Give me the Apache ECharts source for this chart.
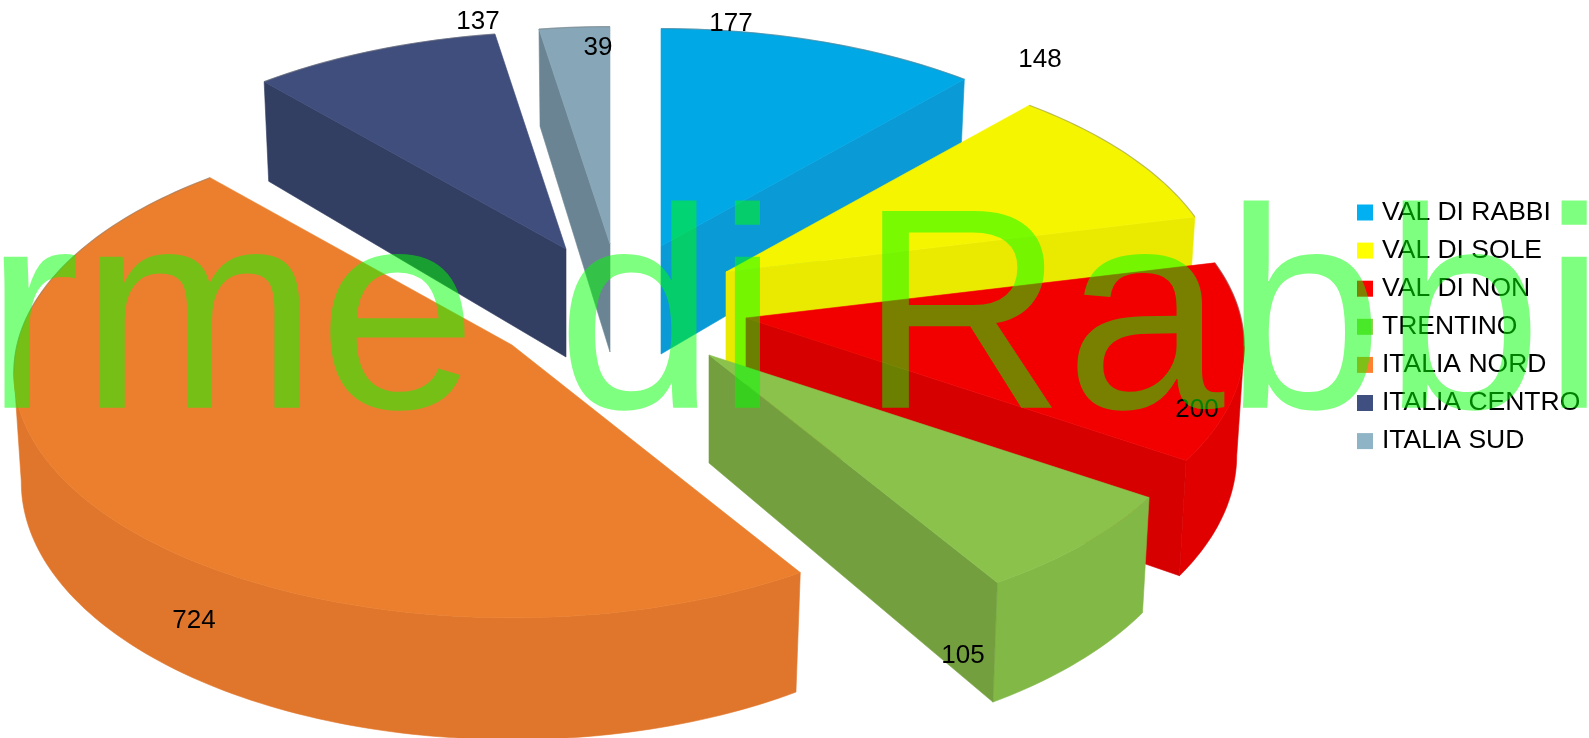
<!DOCTYPE html>
<html><head><meta charset="utf-8">
<style>html,body{margin:0;padding:0;background:#fff}#c{width:1589px;height:738px}</style>
<script src="https://cdn.jsdelivr.net/npm/echarts@6/dist/echarts.min.js"></script>
</head><body><div id="c"></div>
<script>
// Data
const categories = ['VAL DI RABBI','VAL DI SOLE','VAL DI NON','TRENTINO','ITALIA NORD','ITALIA CENTRO','ITALIA SUD'];
const values = [177,148,200,105,724,137,39];
// Styles
const legendColors = ['#00B0F0','#FFFF00','#FF0000','#92D050','#FF8030','#3F5080','#8FB4C6'];
const topColors    = ['#00A8E6','#F5F500','#F20000','#8AC24C','#EB7F2D','#3F4E7C','#87A6B7'];
const wallColors   = ['#0A9AD6','#EAEA00','#D60000','#739F3E','#E0762B','#323E62','#6B8493'];
const rimColors    = ['#0A9AD6','#EAEA00','#E00000','#82B845','#E0762B','#323E62','#6B8493'];
const stacking     = [3,4,6,7,5,2,1];
// Layout: pie centre, explosion of each slice, label shift relative to the slice tip
const pie = {cx:630, cy:290, rx:495, ry:242, k:0.113, depth:108, taper:0.985};
const explodeX = [31,96,116,79,-118,-64,-20];
const explodeY = [-44,-18,28,65,55,-41,-46];
const labelDX = [70,314,451,254,-318,-88,-12];
const labelDY = [-222,-212,92,301,276,-227,-196];

const total = values.reduce((a,b)=>a+b,0);
const starts = []; values.reduce((a,v,i)=>(starts[i]=a,a+v),0);

function project(angle){
  const u=Math.sin(angle), v=-Math.cos(angle), w=1/(1-pie.k*v);
  return {x:pie.rx*u*w, y:pie.ry*v*w, w};
}
function renderSlice(i, val){
  const ax=pie.cx+explodeX[i], ay=pie.cy+explodeY[i];
  const a0=starts[i]/total*2*Math.PI, a1=(starts[i]+val)/total*2*Math.PI;
  const n=Math.max(8,Math.ceil((a1-a0)/0.02));
  const rim=[];
  for(let s=0;s<=n;s++) rim.push(project(a0+(a1-a0)*s/n));
  const T=p=>[ax+p.x, ay+p.y];
  const B=p=>[ax+p.x*pie.taper, ay+p.y+pie.depth*p.w];
  const tip=[ax,ay], tipB=[ax,ay+pie.depth];
  const children=[];
  const wall=(pts,fill)=>children.push({type:'polygon',shape:{points:pts},style:{fill,stroke:fill,lineWidth:0.6}});
  const pS=rim[0], pE=rim[n];
  if(pS.x<0) wall([tip,T(pS),B(pS),tipB],wallColors[i]);
  let run=[];
  const flush=()=>{ if(run.length>1){ wall(run.map(T).concat(run.slice().reverse().map(B)),rimColors[i]); } run=[]; };
  for(let s=0;s<n;s++){
    if(rim[s+1].x<rim[s].x){ if(!run.length) run.push(rim[s]); run.push(rim[s+1]); }
    else flush();
  }
  flush();
  if(pE.x>0) wall([T(pE),tip,tipB,B(pE)],wallColors[i]);
  // top face
  children.push({type:'polygon',shape:{points:[tip].concat(rim.map(T))},
    style:{fill:topColors[i],stroke:topColors[i],lineWidth:0.6}});
  // soft grey edge on the rim parts that have no wall under them
  let edge=[];
  const flushEdge=()=>{ if(edge.length>1) children.push({type:'polyline',shape:{points:edge.map(T)},style:{fill:'none',stroke:'rgba(120,120,120,0.45)',lineWidth:1.2}}); edge=[]; };
  for(let s=0;s<n;s++){
    if(rim[s+1].x>=rim[s].x){ if(!edge.length) edge.push(rim[s]); edge.push(rim[s+1]); }
    else flushEdge();
  }
  flushEdge();
  children.push({type:'text',z2:50,silent:true,x:ax+labelDX[i],y:ay+labelDY[i],
    style:{text:String(val),fill:'#000',font:'26px "Liberation Sans"',align:'center',verticalAlign:'middle'}});
  return {type:'group',children};
}

const chart=echarts.init(document.getElementById('c'),null,{renderer:'canvas'});
chart.setOption({
  animation:false,
  backgroundColor:'#fff',
  legend:{
    orient:'vertical',left:1352,top:194,padding:5,
    itemWidth:16,itemHeight:16,itemGap:11.1,icon:'rect',
    data:categories,selectedMode:false,
    textStyle:{color:'#000',fontSize:26.5,fontFamily:'Liberation Sans',padding:[0,0,0,4]}
  },
  series:categories.map((name,i)=>({
    type:'custom',name,coordinateSystem:'none',z:stacking[i]+1,silent:true,
    itemStyle:{color:legendColors[i]},
    data:[[values[i]]],
    renderItem:(p,api)=>renderSlice(i,api.value(0))
  })),
  graphic:[{
    type:'text',z:1000,silent:true,x:1606,y:329,
    style:{text:'Terme di Rabbi',font:'286px "Liberation Sans"',fill:'rgba(0,255,0,0.5)',align:'right',verticalAlign:'middle'}
  }]
});
</script></body></html>
